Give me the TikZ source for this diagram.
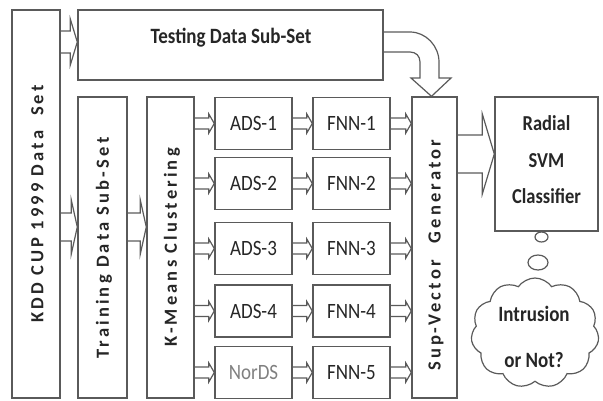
\documentclass[tikz,border=0pt]{standalone}
\usepackage{fontspec}
\setmainfont{Carlito}
\newfontfamily\spacedfont[LetterSpace=17]{Carlito}
\usetikzlibrary{shapes.symbols,shapes.geometric,calc}
\definecolor{lc}{HTML}{5A5A5A}
\definecolor{tc}{HTML}{262626}
\newcommand\tl[1]{\scalebox{1}[1.15]{#1}}
\tikzset{
 box/.style={draw=lc, line width=1.4pt, inner sep=0pt, text=tc},
 blk/.style={draw=lc, line width=1.2pt, line join=miter},
 vlabel/.style={font=\spacedfont\bfseries\fontsize{18.5}{20}\selectfont, text=tc, rotate=90},
 hlabel/.style={font=\bfseries\fontsize{19}{22}\selectfont, text=tc},
 cell/.style={box, minimum width=77pt, minimum height=52pt, font=\fontsize{19}{22}\selectfont},
 bubble/.style={draw=lc, line width=1.2pt, ellipse, inner sep=0pt},
}
\newcommand\harr[5]{%
  \draw[blk] let \p1=(#1), \p2=(#2) in
   (\x1,\y1+#3) -- (\x2-#5,\y1+#3) -- (\x2-#5,\y1+#4) -- (\x2,\y1) -- (\x2-#5,\y1-#4) -- (\x2-#5,\y1-#3) -- (\x1,\y1-#3);}
\begin{document}
\begin{tikzpicture}[x=1pt,y=-1pt]
\useasboundingbox (0,0) rectangle (603,400);
% boxes
\node[box, minimum width=48pt, minimum height=388pt] (kdd) at (36,204) {};
\node[vlabel] (kddt) at (37.5,204) {KDD CUP 1999 Data\ \ Set};
\node[box, minimum width=305pt, minimum height=70pt] (test) at (230.5,45) {};
\node[hlabel, anchor=base] (testt) at (231,43) {\tl{Testing Data Sub-Set}};
\node[box, minimum width=49pt, minimum height=301pt] (train) at (102.5,247.5) {};
\node[vlabel] (traint) at (104,248) {Training Data Sub-Set};
\node[box, minimum width=47pt, minimum height=301pt] (km) at (170.5,247.5) {};
\node[vlabel] (kmt) at (172,247.5) {K-Means Clustering};
\node[box, minimum width=45pt, minimum height=301pt] (sv) at (434.5,247.5) {};
\node[vlabel] (svt) at (436,255) {Sup\kern2pt-\kern2ptVector\hspace{17pt}Generator};
\node[box, minimum width=103pt, minimum height=134pt] (svm) at (546.5,164) {};
\node[hlabel, align=center, font=\bfseries\fontsize{18.5}{36.5}\selectfont] (svmt) at (546.5,160) {\tl{Radial}\\\tl{SVM}\\\tl{Classifier}};
% rows
\node[cell] (a1) at (253.5,123.5) {\tl{ADS-1}};
\node[cell] (a2) at (253.5,183.5) {\tl{ADS-2}};
\node[cell] (a3) at (253.5,248.5) {\tl{ADS-3}};
\node[cell] (a4) at (253.5,311) {\tl{ADS-4}};
\node[cell, text=gray] (a5) at (253.5,372.5) {\tl{NorDS}};
\node[cell] (f1) at (351.5,123.5) {\tl{FNN-1}};
\node[cell] (f2) at (351.5,183.5) {\tl{FNN-2}};
\node[cell] (f3) at (351.5,248.5) {\tl{FNN-3}};
\node[cell] (f4) at (351.5,311) {\tl{FNN-4}};
\node[cell] (f5) at (351.5,372.5) {\tl{FNN-5}};
% big arrows
\harr{kdd.east |- 0,42}{test.west |- 0,42}{11pt}{23pt}{7pt}
\harr{kdd.east |- 0,227}{train.west |- 0,227}{14pt}{27pt}{6pt}
\harr{train.east |- 0,227}{km.west |- 0,227}{14pt}{27pt}{6pt}
\harr{sv.east |- 0,154}{svm.west |- 0,154}{19pt}{40pt}{12pt}
% small arrows
\foreach \i in {1,...,5}{
  \harr{km.east |- a\i.west}{a\i.west}{5.5pt}{9.5pt}{5.5pt}
  \harr{a\i.east}{f\i.west}{5.5pt}{9.5pt}{5.5pt}
  \harr{f\i.east}{sv.west |- f\i.east}{5.5pt}{9.5pt}{5.5pt}
}
% curved arrow
\coordinate (tip) at ([xshift=-3pt]sv.north);
\draw[blk] (test.east |- 0,32) -- (410,32) .. controls (426,32) and (439,46) .. (439,62) -- (439,78) -- (451,78) -- (tip) -- (411,78) -- (420,78) -- (420,62) .. controls (420,56) and (416,52) .. (410,52) -- (test.east |- 0,52);
% thought bubble
\node[bubble, minimum width=13pt, minimum height=10pt] (b1) at (541.5,237) {};
\node[bubble, minimum width=20pt, minimum height=15pt] (b2) at (538,262.5) {};
\node[cloud, draw=lc, line width=1.2pt, cloud puffs=11, cloud puff arc=110, aspect=1.15, minimum width=128pt, minimum height=110pt, inner sep=0pt] (cl) at (535,333) {};
\node[hlabel, align=center, font=\bfseries\fontsize{19}{46}\selectfont] (q) at (534,337) {\tl{Intrusion}\\\tl{or Not?}};
\end{tikzpicture}
\end{document}
